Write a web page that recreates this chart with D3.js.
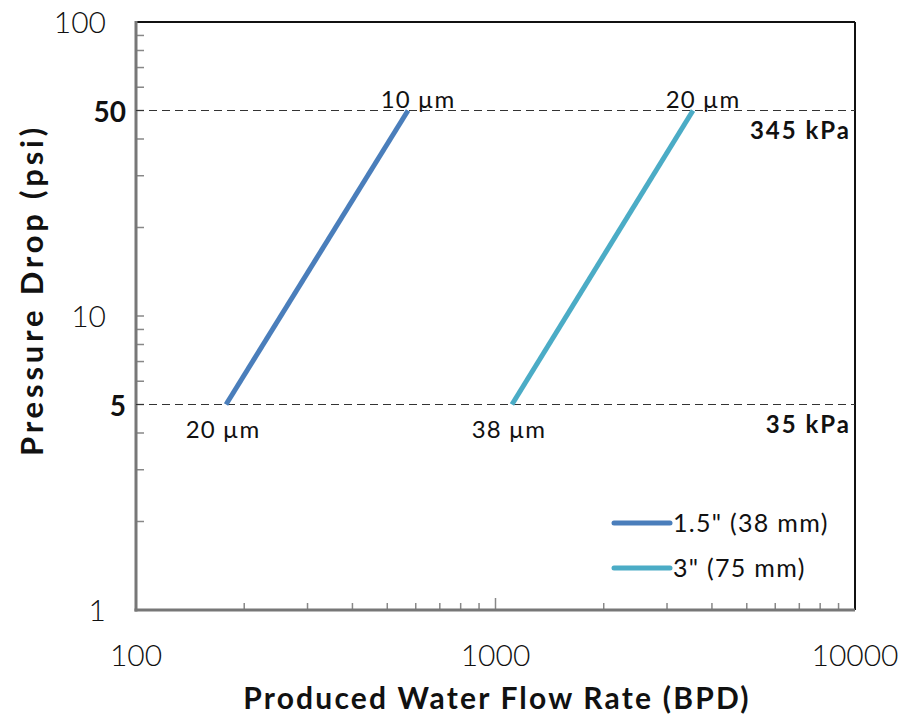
<!DOCTYPE html>
<html>
<head>
<meta charset="utf-8">
<script src="https://cdn.jsdelivr.net/npm/d3@7"></script>
<style>
  body { margin: 0; background: #fff; }
  text { font-family: "Lato", "DejaVu Sans", sans-serif; fill: #111; }
</style>
</head>
<body>
<svg id="chart" width="902" height="719"></svg>
<script>
// values
const seriesNames = ['1.5" (38 mm)', '3" (75 mm)'];
const seriesColors = ["#4a7ebb", "#4bacc6"];
const flow15 = [178, 571];     // BPD at 5 psi and 50 psi
const flow3 = [1111, 3543];
const pressure = [5, 50];
const startLabels = ["20 µm", "38 µm"];
const endLabels = ["10 µm", "20 µm"];
const refPressure = [50, 5];
const refLabels = ["345 kPa", "35 kPa"];
const xTickLabels = [100, 1000, 10000];
const yTickLabels = [1, 5, 10, 50, 100];

const svg = d3.select("#chart");
const pLeft = 136, pRight = 855, pTop = 22, pBottom = 610;

let x = d3.scaleLog().domain([100, 10000]).range([pLeft, pRight]);
let y = d3.scaleLog().domain([1, 100]).range([pBottom, pTop]);

// minor ticks, pointing inward
let xMinor = [];
[100, 1000].forEach(function(d) {
  for (let i = 2; i <= 9; i++) xMinor.push(d * i);
});
let yMinor = [];
[1, 10].forEach(function(d) {
  for (let i = 2; i <= 9; i++) yMinor.push(d * i);
});

let g = svg.append("g");

g.selectAll(".xminor")
  .data(xMinor.concat([1000]))
  .enter()
  .append("line")
  .attr("x1", d => x(d)).attr("x2", d => x(d))
  .attr("y1", pBottom).attr("y2", d => d === 1000 ? pBottom - 12 : pBottom - 7)
  .attr("stroke", "#888").attr("stroke-width", 1.5);

g.selectAll(".yminor")
  .data(yMinor.concat([10]))
  .enter()
  .append("line")
  .attr("y1", d => y(d)).attr("y2", d => y(d))
  .attr("x1", pLeft).attr("x2", pLeft + 8)
  .attr("stroke", "#888").attr("stroke-width", 1.5);

// frame: top and right black, left and bottom gray
g.append("line").attr("x1", pLeft).attr("x2", pRight).attr("y1", pTop).attr("y2", pTop)
  .attr("stroke", "#111").attr("stroke-width", 2);
g.append("line").attr("x1", pRight).attr("x2", pRight).attr("y1", pTop).attr("y2", pBottom)
  .attr("stroke", "#111").attr("stroke-width", 2);
g.append("line").attr("x1", pLeft).attr("x2", pLeft).attr("y1", pTop - 1).attr("y2", pBottom + 1.5)
  .attr("stroke", "#777").attr("stroke-width", 3);
g.append("line").attr("x1", pLeft - 1.5).attr("x2", pRight).attr("y1", pBottom).attr("y2", pBottom)
  .attr("stroke", "#777").attr("stroke-width", 3);

// dashed reference lines
g.selectAll(".ref")
  .data(refPressure)
  .enter()
  .append("line")
  .attr("x1", pLeft).attr("x2", pRight)
  .attr("y1", d => y(d)).attr("y2", d => y(d))
  .attr("stroke", "#333").attr("stroke-width", 1.2)
  .attr("stroke-dasharray", "8,5");

g.selectAll(".reflabel")
  .data(refPressure)
  .enter()
  .append("text")
  .attr("x", pRight - 4)
  .attr("y", d => y(d) + 28)
  .attr("text-anchor", "end")
  .attr("font-size", 24).attr("font-weight", "bold")
  .attr("letter-spacing", 2)
  .text((d, i) => refLabels[i]);

// tick labels
g.selectAll(".xlab")
  .data(xTickLabels)
  .enter()
  .append("text")
  .attr("x", d => x(d))
  .attr("y", 666)
  .attr("text-anchor", "middle")
  .attr("font-size", 30).attr("font-weight", 300)
  .text(d => d);

g.selectAll(".ylab")
  .data(yTickLabels)
  .enter()
  .append("text")
  .attr("x", d => (d === 5 || d === 50) ? 126 : 106)
  .attr("y", d => y(d) + 11)
  .attr("text-anchor", "end")
  .attr("font-size", d => (d === 5 || d === 50) ? 28 : 30)
  .attr("font-weight", d => (d === 5 || d === 50) ? "bold" : 300)
  .text(d => d);

// axis titles
svg.append("text")
  .attr("x", 497)
  .attr("y", 709)
  .attr("text-anchor", "middle")
  .attr("font-size", 30).attr("font-weight", "bold")
  .attr("letter-spacing", 2.2)
  .text("Produced Water Flow Rate (BPD)");

svg.append("text")
  .attr("transform", "translate(43,290) rotate(-90)")
  .attr("text-anchor", "middle")
  .attr("font-size", 31).attr("font-weight", "bold")
  .attr("letter-spacing", 3.8)
  .text("Pressure Drop (psi)");

// series lines
let series = [flow15, flow3];
let line = d3.line()
  .x(d => x(d[0]))
  .y(d => y(d[1]));

series.forEach(function(s, i) {
  let pts = s.map((v, j) => [v, pressure[j]]);
  g.append("path")
    .attr("d", line(pts))
    .attr("fill", "none")
    .attr("stroke", seriesColors[i])
    .attr("stroke-width", 5);

  g.append("text")
    .attr("x", x(s[0]) - 3)
    .attr("y", y(pressure[0]) + 33)
    .attr("text-anchor", "middle")
    .attr("font-size", 24)
    .attr("letter-spacing", 1)
    .text(startLabels[i]);

  g.append("text")
    .attr("x", x(s[1]) + 10)
    .attr("y", y(pressure[1]) - 3)
    .attr("text-anchor", "middle")
    .attr("font-size", 24)
    .attr("letter-spacing", 1)
    .text(endLabels[i]);
});

// legend
let legend = svg.append("g").attr("transform", "translate(614,523)");
seriesNames.forEach(function(name, i) {
  legend.append("line")
    .attr("x1", 0).attr("x2", 56)
    .attr("y1", i * 45).attr("y2", i * 45)
    .attr("stroke", seriesColors[i])
    .attr("stroke-width", 5)
    .attr("stroke-linecap", "round");
  legend.append("text")
    .attr("x", 59)
    .attr("y", i * 45 + 9)
    .attr("font-size", 25)
    .attr("letter-spacing", 1.3)
    .text(name);
});
</script>
</body>
</html>
